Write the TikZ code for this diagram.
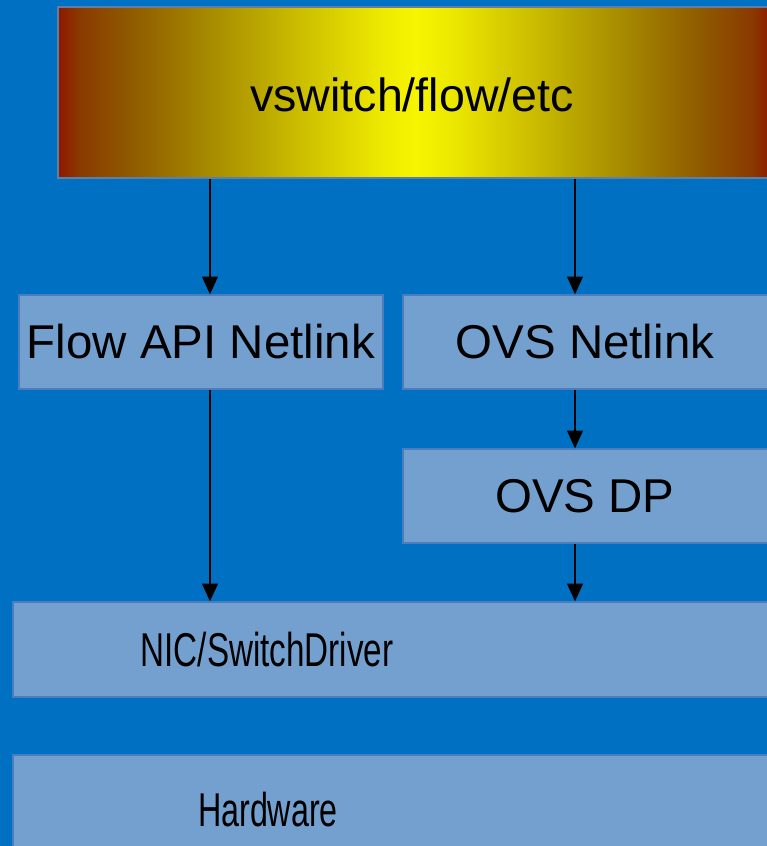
\documentclass[tikz,border=0pt]{standalone}
\usepackage{fontspec}
\setmainfont{Liberation Sans}
\usetikzlibrary{positioning,arrows.meta}
\definecolor{slideblue}{HTML}{0070C3}
\definecolor{layerfill}{HTML}{74A0D0}
\definecolor{layerdraw}{HTML}{4A7CBE}
\definecolor{hotred}{HTML}{8E1800}
\definecolor{hotrust}{HTML}{8A3A00}
\definecolor{hotbrown}{HTML}{8F5A00}
\definecolor{hotolive}{HTML}{A88E00}
\definecolor{hotgold}{HTML}{CFC200}
\definecolor{hotlemon}{HTML}{EDE800}
\definecolor{hotyellow}{HTML}{F7F500}
\pgfdeclarehorizontalshading{hotbar}{100bp}{
    color(0bp)=(hotred);
    color(25bp)=(hotred);
    color(26.5bp)=(hotrust);
    color(30bp)=(hotbrown);
    color(36bp)=(hotolive);
    color(42.5bp)=(hotgold);
    color(47.5bp)=(hotlemon);
    color(50bp)=(hotyellow);
    color(52.5bp)=(hotlemon);
    color(57.5bp)=(hotgold);
    color(64bp)=(hotolive);
    color(70bp)=(hotbrown);
    color(73.5bp)=(hotrust);
    color(75bp)=(hotred);
    color(100bp)=(hotred)
}
\tikzset{
    layer/.style={
        draw=layerdraw,
        line width=0.8pt,
        fill=layerfill,
        minimum height=1.88cm,
        inner sep=0pt
    },
    caption/.style={
        font=\fontsize{27}{31}\selectfont,
        inner sep=0pt
    },
    flow/.style={
        -{Triangle[length=10pt,width=9pt]},
        line width=0.7pt,
        black
    }
}

\begin{document}
\begin{tikzpicture}

\fill[slideblue] (0,0) rectangle (15.34,-16.92);
\clip (0,0) rectangle (15.34,-16.92);

% top application layer
\node[draw=layerdraw!60!gray, line width=0.6pt, shading=hotbar,
      minimum width=14.3cm, minimum height=3.42cm, inner sep=0pt]
      (app) at (8.31,-1.85) {};
\node[caption, font=\fontsize{26.5}{31}\selectfont] (appTxt) at (8.24,-1.9) {vswitch/flow/etc};

% netlink layers
\node[layer, minimum width=7.28cm] (flowapi) at (4.02,-6.84)
    {\fontsize{27}{31}\selectfont Flow API Netlink};
\node[layer, minimum width=7.5cm] (ovsnl) at (11.81,-6.84) {};
\node[caption] (ovsnlTxt) at (11.70,-6.84) {OVS Netlink};
\node[layer, minimum width=7.5cm] (ovsdp) at (11.81,-9.92) {};
\node[caption] (ovsdpTxt) at (11.70,-9.92) {OVS DP};

% driver and hardware
\node[layer, minimum width=15.4cm, minimum height=1.9cm] (nic) at (7.96,-12.99) {};
\node[caption] (nicTxt) at (5.34,-12.99) {\scalebox{0.7}[1]{NIC/SwitchDriver}};
\node[layer, minimum width=15.4cm, minimum height=2.3cm] (hw) at (7.96,-16.25) {};
\node[caption] (hwTxt) at (5.36,-16.2) {\scalebox{0.68}[1]{Hardware}};

\coordinate (la) at (4.20,0);
\coordinate (ra) at (11.50,0);

\draw[flow] (app.south -| la) -- (flowapi.north -| la);
\draw[flow] (app.south -| ra) -- (ovsnl.north -| ra);
\draw[flow] (ovsnl.south -| ra) -- (ovsdp.north -| ra);
\draw[flow] (flowapi.south -| la) -- (nic.north -| la);
\draw[flow] (ovsdp.south -| ra) -- (nic.north -| ra);

\end{tikzpicture}
\end{document}
